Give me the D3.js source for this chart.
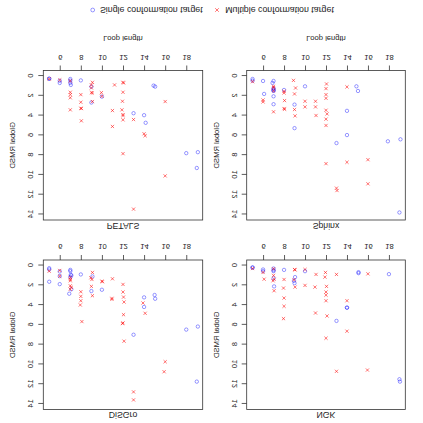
<!DOCTYPE html>
<html><head><meta charset="utf-8">
<script src="https://cdn.jsdelivr.net/npm/d3@7"></script>
<style>body{margin:0;background:#fff}svg{display:block}text{font-family:'Liberation Sans',Arial,sans-serif;fill:#222}</style>
</head><body>
<script>
// Panel names
const panelNames = ["DiSGro", "NGK", "PETALS", "Sphinx"];
const xTicks = [6, 8, 10, 12, 14, 16, 18];
const yTicks = [0, 2, 4, 6, 8, 10, 12, 14];
const legendLabels = ["Single conformation target", "Multiple conformation target"];

// [loop length, global RMSD] pairs
const disgroSingle = [[5,0.27],[5,0.4],[5,1.64],[6,0.6],[6,1.07],[6,1.88],[7,0.44],[7,0.57],[7.05,0.94],[7.1,1.0],[7,1.17],[7.1,2.4],[6.9,2.85],[8,0.9],[9.1,1.1],[9,2.58],[10,2.45],[13,7.0],[14,3.22],[14,4.19],[15,2.98],[15.05,3.36],[18,6.48],[19.1,6.17],[19,11.74]];
const disgroMultiple = [[5,0.57],[6,0.5],[6,1.07],[7,1.2],[7,1.41],[7,1.54],[7,2.05],[7.1,2.2],[7,2.4],[8,2.65],[8,3.12],[8,3.56],[7.95,3.99],[8.1,5.67],[9.1,0.7],[8.95,1.24],[9.05,1.41],[9,2.11],[9.1,3.05],[10,1.58],[10.05,1.64],[11,1.34],[10.95,3.32],[10.95,3.42],[12,1.91],[12,2.68],[12.05,3.19],[12.1,3.69],[12.05,4.97],[12,5.8],[11.95,5.87],[12.1,7.65],[13,12.78],[13,13.59],[13.9,3.79],[14.1,4.83],[16,9.73],[15.9,10.74]];
const ngkSingle = [[5,0.2],[5,0.2],[6,0.4],[6,0.57],[7,0.3],[7,0.47],[7,0.57],[7,1.3],[7.05,2.11],[8,0.44],[9.05,1.17],[8.95,1.54],[9,1.78],[10,0.57],[13,5.6],[14,4.26],[14,4.26],[15.1,0.67],[15.1,0.77],[18,0.87],[19,11.5],[19.05,11.74]];
const ngkMultiple = [[5,0.3],[6,0.7],[6.1,1.38],[7,0.33],[7,1.0],[7.05,1.38],[6.95,1.54],[7.05,2.55],[8,1.41],[7.95,2.28],[8,3.29],[8,4.12],[7.95,5.37],[9,0.4],[9.05,0.44],[8.95,1.44],[9.05,2.18],[10,0.4],[10,2.01],[11.05,0.9],[10.95,2.18],[11,4.8],[11.95,0.7],[11.9,1.17],[12.05,2.11],[12,2.68],[12,2.99],[12,3.56],[12.1,5.1],[12,7.35],[13,0.9],[13,10.7],[14,3.56],[14,6.64],[16,0.84],[15.95,10.57]];
const petalsSingle = [[5,0.27],[5,0.27],[6,0.47],[6,0.7],[7,0.3],[7,0.47],[7,0.7],[7.05,0.9],[8,0.44],[9,1.07],[9,2.68],[10,2.08],[13,3.76],[14,3.96],[14.15,4.73],[14.9,0.97],[15.05,1.07],[18,7.8],[19.1,7.7],[19,9.3]];
const petalsMultiple = [[5,0.3],[6,0.4],[7,0.5],[7,1.64],[7,1.88],[7,2.2],[7,3.42],[8,1.88],[8,2.65],[8,3.26],[8.05,3.29],[8.05,4.53],[9.1,0.64],[9,0.9],[9,1.2],[9,1.68],[9.1,1.71],[9.1,2.58],[9.95,1.68],[10,2.05],[11.2,0.9],[11,3.49],[11,5.1],[12,0.64],[12.05,0.7],[12,1.64],[11.95,2.55],[11.9,3.42],[12,3.9],[12,4.0],[12,4.43],[12,7.85],[13,4.4],[13,13.46],[14,5.84],[14.1,6.04],[16,2.58],[16,10.1]];
const sphinxSingle = [[5,0.3],[5,0.47],[6,0.5],[6.1,1.81],[7,0.5],[6.9,0.7],[7,1.24],[7,1.34],[7,1.48],[7,1.48],[7,2.05],[7,2.85],[8,1.41],[9,2.89],[9,5.27],[10,1.04],[13,6.78],[14,3.52],[14,5.97],[14.9,1.04],[15.05,1.51],[17.9,6.6],[19.1,6.4],[19,13.8]];
const sphinxMultiple = [[5,0.57],[6,2.42],[6,2.62],[7,1.04],[7,1.17],[7,1.5],[7,3.62],[8,1.54],[8,1.71],[8.05,2.48],[8,3.29],[8.05,3.36],[8.9,0.44],[9.1,1.21],[9,1.81],[9,3.39],[9.05,4.03],[10,2.55],[10,3.12],[11,2.55],[11,3.12],[11.05,3.99],[12.05,0.8],[12,1.27],[12,1.88],[12,2.25],[12,3.46],[12.1,3.83],[12,4.36],[12,5.0],[12,8.86],[13,11.34],[13.05,11.58],[14,1.1],[14,8.72],[16,8.46],[16,10.9]];

const singleSets = [disgroSingle, ngkSingle, petalsSingle, sphinxSingle];
const multipleSets = [disgroMultiple, ngkMultiple, petalsMultiple, sphinxMultiple];

const W = 423, H = 423;
const svg = d3.select("body").append("svg").attr("width", W).attr("height", H);
svg.append("rect").attr("width", W).attr("height", H).attr("fill", "#fff");
// The reference is mirrored vertically
const root = svg.append("g").attr("transform", `translate(0,${H}) scale(1,-1)`);

const cols = [[43.3, 202.7], [246.7, 405.3]];
const rows = [[13.5, 163], [203, 352.5]];
const BLUE = "rgba(0,0,255,0.4)", RED = "rgba(255,0,0,0.55)";
const fTick = 7.6, fTitle = 8.7;

panelNames.forEach((name, i) => {
  const [x0, x1] = cols[i % 2];
  const [y0, y1] = rows[Math.floor(i / 2)];
  const x = d3.scaleLinear().domain([4.44, 19.56]).range([x0, x1]);
  const y = d3.scaleLinear().domain([-0.56, 14.56]).range([y1, y0]);
  const g = root.append("g");

  // x axis
  const xa = g.append("g").attr("transform", `translate(0,${y1})`)
    .call(d3.axisBottom(x).tickValues(xTicks).tickSize(5).tickSizeOuter(0).tickPadding(5.5).tickFormat(d3.format("d")));
  xa.select(".domain").remove();
  xa.selectAll("line").attr("stroke", "#333").attr("stroke-width", 0.8);
  xa.selectAll("text").attr("font-size", fTick).attr("font-family", null).attr("fill", "#222");

  // y axis
  const ya = g.append("g").attr("transform", `translate(${x0},0)`)
    .call(d3.axisLeft(y).tickValues(yTicks).tickSize(5).tickSizeOuter(0).tickFormat(d3.format("d")));
  ya.select(".domain").remove();
  ya.selectAll("line").attr("stroke", "#333").attr("stroke-width", 0.8);
  ya.selectAll("text").attr("font-size", fTick).attr("font-family", null).attr("fill", "#222")
    .attr("x", null).attr("dy", null).attr("text-anchor", "middle")
    .attr("transform", "translate(-10,0) rotate(-90)");

  // box
  g.append("rect").attr("x", x0).attr("y", y0).attr("width", x1 - x0).attr("height", y1 - y0)
    .attr("fill", "none").attr("stroke", "#333").attr("stroke-width", 0.8);

  // titles
  g.append("text").attr("x", (x0 + x1) / 2).attr("y", y0 - 2.7).attr("text-anchor", "middle")
    .attr("font-size", fTitle).text(name);
  g.append("text").attr("text-anchor", "middle").attr("font-size", fTick)
    .attr("transform", `translate(${x0 - 28},${(y0 + y1) / 2}) rotate(-90)`).text("Global RMSD");
  if (i >= 2) {
    g.append("text").attr("x", (x0 + x1) / 2).attr("y", y1 + 34.5).attr("text-anchor", "middle")
      .attr("font-size", fTick).text("Loop length");
  }

  // points
  g.append("g").selectAll("circle").data(singleSets[i]).join("circle")
    .attr("cx", d => x(d[0])).attr("cy", d => y(d[1])).attr("r", 1.7)
    .attr("fill", "none").attr("stroke", BLUE).attr("stroke-width", 1);
  const h = 1.6;
  g.append("g").selectAll("path").data(multipleSets[i]).join("path")
    .attr("d", d => { const cx = x(d[0]), cy = y(d[1]);
      return `M${cx-h},${cy-h}L${cx+h},${cy+h}M${cx-h},${cy+h}L${cx+h},${cy-h}`; })
    .attr("fill", "none").attr("stroke", RED).attr("stroke-width", 1);
});

// legend
const lg = root.append("g");
const ly = 413;
lg.append("circle").attr("cx", 92.7).attr("cy", ly).attr("r", 1.9)
  .attr("fill", "none").attr("stroke", BLUE).attr("stroke-width", 1);
lg.append("text").attr("x", 100).attr("y", ly + 3.1).attr("font-size", 8.8).text(legendLabels[0]);
const lh = 1.8;
lg.append("path").attr("d", `M${217-lh},${ly-lh}L${217+lh},${ly+lh}M${217-lh},${ly+lh}L${217+lh},${ly-lh}`)
  .attr("stroke", RED).attr("stroke-width", 1);
lg.append("text").attr("x", 225.3).attr("y", ly + 3.1).attr("font-size", 8.8).text(legendLabels[1]);
</script>
</body></html>
